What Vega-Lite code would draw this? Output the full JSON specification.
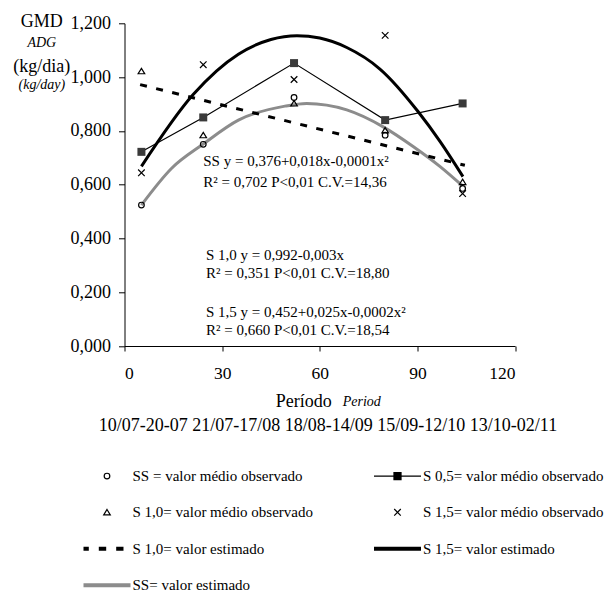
{
  "$schema": "https://vega.github.io/schema/vega-lite/v6.json",
  "width": 390.5,
  "height": 322.7,
  "autosize": {"type": "none"},
  "padding": {"left": 124.5, "top": 23.3, "right": 93, "bottom": 247},
  "background": "white",
  "config": {
    "view": {"stroke": null},
    "font": "Liberation Serif",
    "axis": {
      "title": null,
      "grid": false,
      "domainColor": "black",
      "domainWidth": 1,
      "tickColor": "black",
      "tickWidth": 1,
      "labelFont": "Liberation Serif",
      "labelFontSize": 17.5,
      "labelColor": "black"
    },
    "axisX": {"tickSize": 5, "labelPadding": 13.5},
    "axisY": {"tickSize": 6, "labelPadding": 8, "labelFontSize": 18}
  },
  "datasets": {
    "obs": [
      {"serie": "SS = valor médio observado", "x": 5.2, "y": 0.524},
      {"serie": "SS = valor médio observado", "x": 24.2, "y": 0.750},
      {"serie": "SS = valor médio observado", "x": 52.1, "y": 0.924},
      {"serie": "SS = valor médio observado", "x": 80.1, "y": 0.784},
      {"serie": "SS = valor médio observado", "x": 103.9, "y": 0.586},
      {"serie": "S 0,5= valor médio observado", "x": 5.2, "y": 0.722},
      {"serie": "S 0,5= valor médio observado", "x": 24.2, "y": 0.850},
      {"serie": "S 0,5= valor médio observado", "x": 52.1, "y": 1.052},
      {"serie": "S 0,5= valor médio observado", "x": 80.1, "y": 0.840},
      {"serie": "S 0,5= valor médio observado", "x": 103.9, "y": 0.902},
      {"serie": "S 1,0= valor médio observado", "x": 5.2, "y": 1.022},
      {"serie": "S 1,0= valor médio observado", "x": 24.2, "y": 0.784},
      {"serie": "S 1,0= valor médio observado", "x": 52.1, "y": 0.902},
      {"serie": "S 1,0= valor médio observado", "x": 80.1, "y": 0.802},
      {"serie": "S 1,0= valor médio observado", "x": 103.9, "y": 0.610},
      {"serie": "S 1,5= valor médio observado", "x": 5.2, "y": 0.644},
      {"serie": "S 1,5= valor médio observado", "x": 24.2, "y": 1.046},
      {"serie": "S 1,5= valor médio observado", "x": 52.1, "y": 0.991},
      {"serie": "S 1,5= valor médio observado", "x": 80.1, "y": 1.155},
      {"serie": "S 1,5= valor médio observado", "x": 103.9, "y": 0.567}
    ],
    "est": [
      {"serie": "SS= valor estimado", "x": 5.2, "y": 0.524},
      {"serie": "SS= valor estimado", "x": 14.5, "y": 0.661},
      {"serie": "SS= valor estimado", "x": 24.2, "y": 0.751},
      {"serie": "SS= valor estimado", "x": 35.0, "y": 0.840},
      {"serie": "SS= valor estimado", "x": 49.3, "y": 0.892},
      {"serie": "SS= valor estimado", "x": 56.0, "y": 0.902},
      {"serie": "SS= valor estimado", "x": 68.3, "y": 0.878},
      {"serie": "SS= valor estimado", "x": 79.5, "y": 0.815},
      {"serie": "SS= valor estimado", "x": 88.8, "y": 0.741},
      {"serie": "SS= valor estimado", "x": 97.0, "y": 0.667},
      {"serie": "SS= valor estimado", "x": 103.9, "y": 0.595},
      {"serie": "S 1,0= valor estimado", "x": 4.8, "y": 0.972},
      {"serie": "S 1,0= valor estimado", "x": 104.6, "y": 0.672},
      {"serie": "S 1,5= valor estimado", "x": 5.2, "y": 0.668},
      {"serie": "S 1,5= valor estimado", "x": 21.1, "y": 0.935},
      {"serie": "S 1,5= valor estimado", "x": 35.0, "y": 1.085},
      {"serie": "S 1,5= valor estimado", "x": 45.0, "y": 1.140},
      {"serie": "S 1,5= valor estimado", "x": 53.0, "y": 1.154},
      {"serie": "S 1,5= valor estimado", "x": 60.0, "y": 1.145},
      {"serie": "S 1,5= valor estimado", "x": 68.3, "y": 1.110},
      {"serie": "S 1,5= valor estimado", "x": 78.5, "y": 1.030},
      {"serie": "S 1,5= valor estimado", "x": 90.2, "y": 0.872},
      {"serie": "S 1,5= valor estimado", "x": 97.0, "y": 0.760},
      {"serie": "S 1,5= valor estimado", "x": 104.0, "y": 0.630}
    ]
  },
  "layer": [
    {
      "data": {"name": "est"},
      "transform": [{"filter": "datum.serie === 'SS= valor estimado'"}],
      "mark": {"type": "line", "interpolate": "monotone", "color": "#8c8c8c", "strokeWidth": 3},
      "encoding": {
        "x": {"field": "x", "type": "quantitative", "scale": {"domain": [0, 120], "nice": false},
              "axis": {"values": [0, 30, 60, 90, 120], "title": null}},
        "y": {"field": "y", "type": "quantitative", "scale": {"domain": [0, 1.2], "nice": false},
              "axis": {"values": [0, 0.2, 0.4, 0.6, 0.8, 1.0, 1.2], "title": null, "labelExpr": "replace(format(datum.value, '.3f'), '.', ',')"}}
      }
    },
    {
      "data": {"name": "est"},
      "transform": [{"filter": "datum.serie === 'S 1,0= valor estimado'"}],
      "mark": {"type": "line", "color": "black", "strokeWidth": 3, "strokeDash": [7, 9.5]},
      "encoding": {
        "x": {"field": "x", "type": "quantitative", "scale": {"domain": [0, 120], "nice": false},
              "axis": {"values": [0, 30, 60, 90, 120], "title": null}},
        "y": {"field": "y", "type": "quantitative", "scale": {"domain": [0, 1.2], "nice": false},
              "axis": {"values": [0, 0.2, 0.4, 0.6, 0.8, 1.0, 1.2], "title": null, "labelExpr": "replace(format(datum.value, '.3f'), '.', ',')"}}
      }
    },
    {
      "data": {"name": "est"},
      "transform": [{"filter": "datum.serie === 'S 1,5= valor estimado'"}],
      "mark": {"type": "line", "interpolate": "monotone", "color": "black", "strokeWidth": 3},
      "encoding": {
        "x": {"field": "x", "type": "quantitative", "scale": {"domain": [0, 120], "nice": false},
              "axis": {"values": [0, 30, 60, 90, 120], "title": null}},
        "y": {"field": "y", "type": "quantitative", "scale": {"domain": [0, 1.2], "nice": false},
              "axis": {"values": [0, 0.2, 0.4, 0.6, 0.8, 1.0, 1.2], "title": null, "labelExpr": "replace(format(datum.value, '.3f'), '.', ',')"}}
      }
    },
    {
      "data": {"name": "obs"},
      "transform": [{"filter": "datum.serie === 'S 0,5= valor médio observado'"}],
      "mark": {"type": "line", "color": "black", "strokeWidth": 1.2,
               "point": {"shape": "square", "filled": true, "size": 64, "color": "#3a3a3a"}},
      "encoding": {
        "x": {"field": "x", "type": "quantitative", "scale": {"domain": [0, 120], "nice": false},
              "axis": {"values": [0, 30, 60, 90, 120], "title": null}},
        "y": {"field": "y", "type": "quantitative", "scale": {"domain": [0, 1.2], "nice": false},
              "axis": {"values": [0, 0.2, 0.4, 0.6, 0.8, 1.0, 1.2], "title": null, "labelExpr": "replace(format(datum.value, '.3f'), '.', ',')"}}
      }
    },
    {
      "data": {"name": "obs"},
      "transform": [{"filter": "datum.serie !== 'S 0,5= valor médio observado'"}],
      "mark": {"type": "point", "filled": false, "strokeWidth": 1.2, "size": 2209, "opacity": 1},
      "encoding": {
        "x": {"field": "x", "type": "quantitative", "scale": {"domain": [0, 120], "nice": false},
              "axis": {"values": [0, 30, 60, 90, 120], "title": null}},
        "y": {"field": "y", "type": "quantitative", "scale": {"domain": [0, 1.2], "nice": false},
              "axis": {"values": [0, 0.2, 0.4, 0.6, 0.8, 1.0, 1.2], "title": null, "labelExpr": "replace(format(datum.value, '.3f'), '.', ',')"}},
        "shape": {
          "field": "serie",
          "type": "nominal",
          "scale": {
            "domain": [
              "SS = valor médio observado",
              "S 0,5= valor médio observado",
              "S 1,0= valor médio observado",
              "S 1,5= valor médio observado",
              "S 1,0= valor estimado",
              "S 1,5= valor estimado",
              "SS= valor estimado"
            ],
            "range": [
              "M-0.12,0A0.12,0.12,0,1,1,0.12,0A0.12,0.12,0,1,1,-0.12,0Z",
              "M-1,0H1M-0.15,-0.15H0.15V0.15H-0.15ZM-0.15,-0.1H0.15M-0.15,-0.05H0.15M-0.15,0.05H0.15M-0.15,0.1H0.15",
              "M0,-0.12L0.14,0.11L-0.14,0.11Z",
              "M-0.14,-0.14L0.14,0.14M-0.14,0.14L0.14,-0.14",
              "M-1,-0.06H-0.774M-1,-0.02H-0.774M-1,0.02H-0.774M-1,0.06H-0.774M-0.349,-0.06H-0.034M-0.349,-0.02H-0.034M-0.349,0.02H-0.034M-0.349,0.06H-0.034M0.391,-0.06H0.702M0.391,-0.02H0.702M0.391,0.02H0.702M0.391,0.06H0.702",
              "M-1,-0.06H1M-1,-0.02H1M-1,0.02H1M-1,0.06H1",
              "M-1,-0.06H1M-1,-0.02H1M-1,0.02H1M-1,0.06H1"
            ]
          },
          "legend": {
            "title": null,
            "orient": "none",
            "direction": "horizontal",
            "legendX": -42,
            "legendY": 428,
            "columns": 2,
            "columnPadding": 57.5,
            "rowPadding": 3.5,
            "padding": 0,
            "symbolSize": 2209,
            "symbolStrokeWidth": 1.2,
            "symbolOffset": 0,
            "labelOffset": 1,
            "labelFont": "Liberation Serif",
            "labelFontSize": 15,
            "labelColor": "black",
            "labelLimit": 400
          }
        },
        "stroke": {
          "field": "serie",
          "type": "nominal",
          "scale": {
            "domain": [
              "SS = valor médio observado",
              "S 0,5= valor médio observado",
              "S 1,0= valor médio observado",
              "S 1,5= valor médio observado",
              "S 1,0= valor estimado",
              "S 1,5= valor estimado",
              "SS= valor estimado"
            ],
            "range": ["black", "black", "black", "black", "black", "black", "#8c8c8c"]
          },
          "legend": {
            "title": null,
            "orient": "none",
            "direction": "horizontal",
            "legendX": -42,
            "legendY": 428,
            "columns": 2,
            "columnPadding": 57.5,
            "rowPadding": 3.5,
            "padding": 0,
            "symbolSize": 2209,
            "symbolStrokeWidth": 1.2,
            "symbolOffset": 0,
            "labelOffset": 1,
            "labelFont": "Liberation Serif",
            "labelFontSize": 15,
            "labelColor": "black",
            "labelLimit": 400
          }
        }
      }
    },
    {
      "data": {"values": [{}]},
      "mark": {"type": "text", "align": "left", "baseline": "middle", "fontSize": 15, "font": "Liberation Serif", "color": "black"},
      "encoding": {
        "x": {"datum": 24.2, "type": "quantitative", "scale": {"domain": [0, 120], "nice": false}, "axis": {"values": [0, 30, 60, 90, 120], "title": null}},
        "y": {"datum": 0.688, "type": "quantitative", "scale": {"domain": [0, 1.2], "nice": false}, "axis": {"values": [0, 0.2, 0.4, 0.6, 0.8, 1.0, 1.2], "title": null, "labelExpr": "replace(format(datum.value, '.3f'), '.', ',')"}},
        "text": {"value": "SS y = 0,376+0,018x-0,0001x²"}
      }
    },
    {
      "data": {"values": [{}]},
      "mark": {"type": "text", "align": "left", "baseline": "middle", "fontSize": 15, "font": "Liberation Serif", "color": "black"},
      "encoding": {
        "x": {"datum": 24.2, "type": "quantitative", "scale": {"domain": [0, 120], "nice": false}, "axis": {"values": [0, 30, 60, 90, 120], "title": null}},
        "y": {"datum": 0.610, "type": "quantitative", "scale": {"domain": [0, 1.2], "nice": false}, "axis": {"values": [0, 0.2, 0.4, 0.6, 0.8, 1.0, 1.2], "title": null, "labelExpr": "replace(format(datum.value, '.3f'), '.', ',')"}},
        "text": {"value": "R² = 0,702 P<0,01 C.V.=14,36"}
      }
    },
    {
      "data": {"values": [{}]},
      "mark": {"type": "text", "align": "left", "baseline": "middle", "fontSize": 15, "font": "Liberation Serif", "color": "black"},
      "encoding": {
        "x": {"datum": 25.05, "type": "quantitative", "scale": {"domain": [0, 120], "nice": false}, "axis": {"values": [0, 30, 60, 90, 120], "title": null}},
        "y": {"datum": 0.3384, "type": "quantitative", "scale": {"domain": [0, 1.2], "nice": false}, "axis": {"values": [0, 0.2, 0.4, 0.6, 0.8, 1.0, 1.2], "title": null, "labelExpr": "replace(format(datum.value, '.3f'), '.', ',')"}},
        "text": {"value": "S 1,0 y = 0,992-0,003x"}
      }
    },
    {
      "data": {"values": [{}]},
      "mark": {"type": "text", "align": "left", "baseline": "middle", "fontSize": 15, "font": "Liberation Serif", "color": "black"},
      "encoding": {
        "x": {"datum": 25.05, "type": "quantitative", "scale": {"domain": [0, 120], "nice": false}, "axis": {"values": [0, 30, 60, 90, 120], "title": null}},
        "y": {"datum": 0.2715, "type": "quantitative", "scale": {"domain": [0, 1.2], "nice": false}, "axis": {"values": [0, 0.2, 0.4, 0.6, 0.8, 1.0, 1.2], "title": null, "labelExpr": "replace(format(datum.value, '.3f'), '.', ',')"}},
        "text": {"value": "R² = 0,351 P<0,01 C.V.=18,80"}
      }
    },
    {
      "data": {"values": [{}]},
      "mark": {"type": "text", "align": "left", "baseline": "middle", "fontSize": 15, "font": "Liberation Serif", "color": "black"},
      "encoding": {
        "x": {"datum": 25.05, "type": "quantitative", "scale": {"domain": [0, 120], "nice": false}, "axis": {"values": [0, 30, 60, 90, 120], "title": null}},
        "y": {"datum": 0.1264, "type": "quantitative", "scale": {"domain": [0, 1.2], "nice": false}, "axis": {"values": [0, 0.2, 0.4, 0.6, 0.8, 1.0, 1.2], "title": null, "labelExpr": "replace(format(datum.value, '.3f'), '.', ',')"}},
        "text": {"value": "S 1,5 y = 0,452+0,025x-0,0002x²"}
      }
    },
    {
      "data": {"values": [{}]},
      "mark": {"type": "text", "align": "left", "baseline": "middle", "fontSize": 15, "font": "Liberation Serif", "color": "black"},
      "encoding": {
        "x": {"datum": 25.05, "type": "quantitative", "scale": {"domain": [0, 120], "nice": false}, "axis": {"values": [0, 30, 60, 90, 120], "title": null}},
        "y": {"datum": 0.0595, "type": "quantitative", "scale": {"domain": [0, 1.2], "nice": false}, "axis": {"values": [0, 0.2, 0.4, 0.6, 0.8, 1.0, 1.2], "title": null, "labelExpr": "replace(format(datum.value, '.3f'), '.', ',')"}},
        "text": {"value": "R² = 0,660 P<0,01 C.V.=18,54"}
      }
    },
    {
      "data": {"values": [{}]},
      "mark": {"type": "text", "align": "center", "baseline": "middle", "fontSize": 18, "font": "Liberation Serif", "color": "black"},
      "encoding": {
        "x": {"datum": -25.4, "type": "quantitative", "scale": {"domain": [0, 120], "nice": false}, "axis": {"values": [0, 30, 60, 90, 120], "title": null}},
        "y": {"datum": 1.206, "type": "quantitative", "scale": {"domain": [0, 1.2], "nice": false}, "axis": {"values": [0, 0.2, 0.4, 0.6, 0.8, 1.0, 1.2], "title": null, "labelExpr": "replace(format(datum.value, '.3f'), '.', ',')"}},
        "text": {"value": "GMD"}
      }
    },
    {
      "data": {"values": [{}]},
      "mark": {"type": "text", "align": "center", "baseline": "middle", "fontSize": 14, "fontStyle": "italic", "font": "Liberation Serif", "color": "black"},
      "encoding": {
        "x": {"datum": -25.4, "type": "quantitative", "scale": {"domain": [0, 120], "nice": false}, "axis": {"values": [0, 30, 60, 90, 120], "title": null}},
        "y": {"datum": 1.1256, "type": "quantitative", "scale": {"domain": [0, 1.2], "nice": false}, "axis": {"values": [0, 0.2, 0.4, 0.6, 0.8, 1.0, 1.2], "title": null, "labelExpr": "replace(format(datum.value, '.3f'), '.', ',')"}},
        "text": {"value": "ADG"}
      }
    },
    {
      "data": {"values": [{}]},
      "mark": {"type": "text", "align": "center", "baseline": "middle", "fontSize": 18, "font": "Liberation Serif", "color": "black"},
      "encoding": {
        "x": {"datum": -25.4, "type": "quantitative", "scale": {"domain": [0, 120], "nice": false}, "axis": {"values": [0, 30, 60, 90, 120], "title": null}},
        "y": {"datum": 1.0386, "type": "quantitative", "scale": {"domain": [0, 1.2], "nice": false}, "axis": {"values": [0, 0.2, 0.4, 0.6, 0.8, 1.0, 1.2], "title": null, "labelExpr": "replace(format(datum.value, '.3f'), '.', ',')"}},
        "text": {"value": "(kg/dia)"}
      }
    },
    {
      "data": {"values": [{}]},
      "mark": {"type": "text", "align": "center", "baseline": "middle", "fontSize": 14, "fontStyle": "italic", "font": "Liberation Serif", "color": "black"},
      "encoding": {
        "x": {"datum": -25.4, "type": "quantitative", "scale": {"domain": [0, 120], "nice": false}, "axis": {"values": [0, 30, 60, 90, 120], "title": null}},
        "y": {"datum": 0.9706, "type": "quantitative", "scale": {"domain": [0, 1.2], "nice": false}, "axis": {"values": [0, 0.2, 0.4, 0.6, 0.8, 1.0, 1.2], "title": null, "labelExpr": "replace(format(datum.value, '.3f'), '.', ',')"}},
        "text": {"value": "(kg/day)"}
      }
    },
    {
      "data": {"values": [{}]},
      "mark": {"type": "text", "align": "right", "baseline": "middle", "fontSize": 18, "font": "Liberation Serif", "color": "black"},
      "encoding": {
        "x": {"datum": 63.68, "type": "quantitative", "scale": {"domain": [0, 120], "nice": false}, "axis": {"values": [0, 30, 60, 90, 120], "title": null}},
        "y": {"datum": -0.2071, "type": "quantitative", "scale": {"domain": [0, 1.2], "nice": false}, "axis": {"values": [0, 0.2, 0.4, 0.6, 0.8, 1.0, 1.2], "title": null, "labelExpr": "replace(format(datum.value, '.3f'), '.', ',')"}},
        "text": {"value": "Período"}
      }
    },
    {
      "data": {"values": [{}]},
      "mark": {"type": "text", "align": "left", "baseline": "middle", "fontSize": 14, "fontStyle": "italic", "font": "Liberation Serif", "color": "black"},
      "encoding": {
        "x": {"datum": 67.06, "type": "quantitative", "scale": {"domain": [0, 120], "nice": false}, "axis": {"values": [0, 30, 60, 90, 120], "title": null}},
        "y": {"datum": -0.2094, "type": "quantitative", "scale": {"domain": [0, 1.2], "nice": false}, "axis": {"values": [0, 0.2, 0.4, 0.6, 0.8, 1.0, 1.2], "title": null, "labelExpr": "replace(format(datum.value, '.3f'), '.', ',')"}},
        "text": {"value": "Period"}
      }
    },
    {
      "data": {"values": [{}]},
      "mark": {"type": "text", "align": "center", "baseline": "middle", "fontSize": 18, "font": "Liberation Serif", "color": "black"},
      "encoding": {
        "x": {"datum": 62.54, "type": "quantitative", "scale": {"domain": [0, 120], "nice": false}, "axis": {"values": [0, 30, 60, 90, 120], "title": null}},
        "y": {"datum": -0.2975, "type": "quantitative", "scale": {"domain": [0, 1.2], "nice": false}, "axis": {"values": [0, 0.2, 0.4, 0.6, 0.8, 1.0, 1.2], "title": null, "labelExpr": "replace(format(datum.value, '.3f'), '.', ',')"}},
        "text": {"value": "10/07-20-07 21/07-17/08 18/08-14/09 15/09-12/10 13/10-02/11"}
      }
    }
  ]
}
